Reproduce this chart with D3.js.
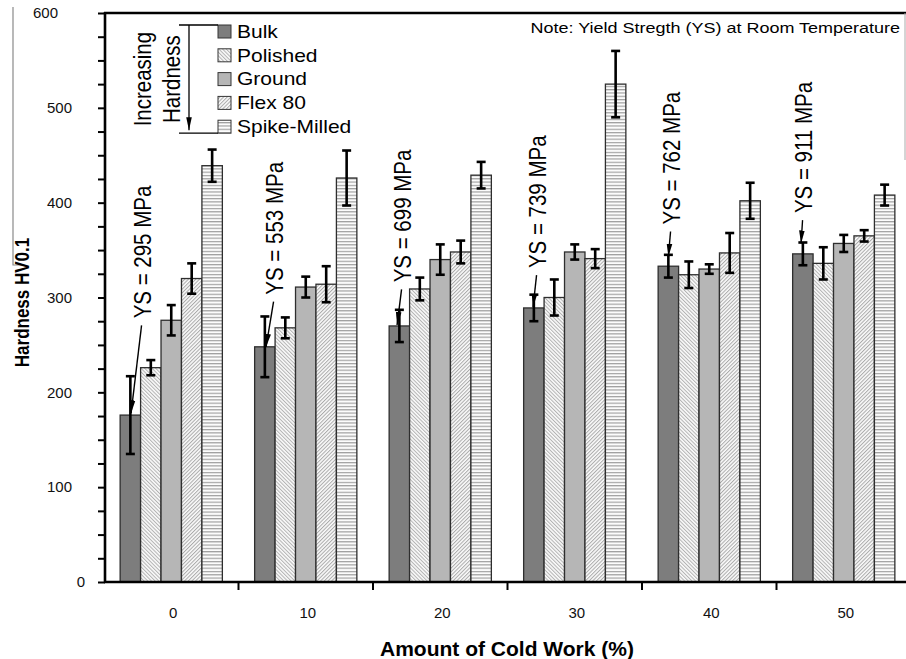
<!DOCTYPE html>
<html><head><meta charset="utf-8">
<script src="https://cdn.jsdelivr.net/npm/d3@7"></script>
<style>
body{margin:0;background:#fff;}
svg{display:block;font-family:"Liberation Sans",Arial,sans-serif;}
</style></head><body>
<svg id="chart" width="906" height="659"></svg>
<script>
// Cold work levels (%) and surface conditions
const categories = ["0", "10", "20", "30", "40", "50"];
const series = ["Bulk", "Polished", "Ground", "Flex 80", "Spike-Milled"];

// Mean hardness HV0.1 per condition
const bulk     = [176, 248, 270, 289, 333, 346];
const polished = [226, 268, 309, 300, 324, 336];
const ground   = [276, 311, 340, 348, 330, 357];
const flex80   = [320, 314, 348, 341, 347, 365];
const spike    = [439, 426, 429, 525, 402, 408];

// Scatter (± HV0.1)
const bulkErr     = [41, 32, 17, 14, 12, 12];
const polishedErr = [8, 11, 12, 19, 14, 17];
const groundErr   = [16, 11, 16, 8, 5, 9];
const flex80Err   = [16, 19, 12, 10, 21, 6];
const spikeErr    = [17, 29, 14, 35, 19, 11];

// Room-temperature yield strength (MPa) for each cold work level
const yieldStrength = [295, 553, 699, 739, 762, 911];
// Hardness level where each YS label starts and where its arrow points
const ysLabelFrom = [278, 303, 316, 331, 377, 389];
const ysArrowTo   = [178, 248, 271, 290, 343, 357];

const yTicks = [0, 100, 200, 300, 400, 500, 600];

// ---- layout ----
const L = { left: 105, right: 911, top: 13, bottom: 582 };
const ysTextDx  = [12.7, 10.2, 3.7, 4.2, 3.7, 1.2];
const ysTipDx   = [0.7, 1.2, -2.3, -0.8, 0, -1.8];

const valuesBySeries = [bulk, polished, ground, flex80, spike];
const errBySeries = [bulkErr, polishedErr, groundErr, flex80Err, spikeErr];

const rows = [];
categories.forEach((c, i) => series.forEach((s, j) => rows.push({
  cat: c, ser: s, si: j, v: valuesBySeries[j][i], e: errBySeries[j][i]
})));

const svg = d3.select("#chart");
const defs = svg.append("defs");

function hatch(id, angle, color, gap, w) {
  const p = defs.append("pattern").attr("id", id)
    .attr("patternUnits", "userSpaceOnUse").attr("width", gap).attr("height", gap)
    .attr("patternTransform", `rotate(${angle})`);
  p.append("rect").attr("width", gap).attr("height", gap).attr("fill", "#fafafa");
  p.append("rect").attr("x", 0).attr("y", 0).attr("width", w).attr("height", gap).attr("fill", color);
}
hatch("pPolished", -45, "#b2b2b2", 2.6, 1.0);
hatch("pFlex", 45, "#aaaaaa", 2.6, 1.0);
{
  const p = defs.append("pattern").attr("id", "pSpike")
    .attr("patternUnits", "userSpaceOnUse").attr("width", 6).attr("height", 3.3);
  p.append("rect").attr("width", 6).attr("height", 3.3).attr("fill", "#fcfcfc");
  p.append("rect").attr("y", 0).attr("width", 6).attr("height", 1.2).attr("fill", "#a0a0a0");
}
const fills = ["#7d7d7d", "url(#pPolished)", "#b6b6b6", "url(#pFlex)", "url(#pSpike)"];

defs.append("marker").attr("id", "arrow").attr("markerUnits", "userSpaceOnUse")
  .attr("viewBox", "0 -4 13 8").attr("refX", 13).attr("refY", 0)
  .attr("markerWidth", 13).attr("markerHeight", 8).attr("orient", "auto")
  .append("path").attr("d", "M0,-2.8L13,0L0,2.8Z").attr("fill", "#000");

const x0 = d3.scaleBand().domain(categories).range([L.left - 1, L.right]).padding(0);
const bw = x0.bandwidth();
const x1 = d3.scaleBand().domain(series).range([bw * 0.12, bw * 0.88]).padding(0);
const y = d3.scaleLinear().domain([0, 600]).range([L.bottom, L.top]);

// bars
svg.append("g").selectAll("rect").data(rows).join("rect")
  .attr("x", d => x0(d.cat) + x1(d.ser))
  .attr("y", d => y(d.v))
  .attr("width", x1.bandwidth())
  .attr("height", d => y(0) - y(d.v))
  .attr("fill", d => fills[d.si])
  .attr("stroke", "#2e2e2e").attr("stroke-width", 1.3);

// error bars
const eg = svg.append("g").attr("stroke", "#000").attr("stroke-width", 2.6);
rows.forEach(d => {
  const cx = x0(d.cat) + x1(d.ser) + x1.bandwidth() / 2;
  eg.append("line").attr("x1", cx).attr("x2", cx).attr("y1", y(d.v - d.e)).attr("y2", y(d.v + d.e));
  [d.v - d.e, d.v + d.e].forEach(t => eg.append("line")
    .attr("x1", cx - 4.5).attr("x2", cx + 4.5).attr("y1", y(t)).attr("y2", y(t)));
});

// yield strength labels with leader arrows
categories.forEach((c, i) => {
  const bc = x0(c) + x1("Bulk") + x1.bandwidth() / 2;
  const tx = bc + ysTextDx[i];
  const ty = y(ysLabelFrom[i]);
  svg.append("text")
    .attr("transform", `translate(${tx},${ty}) scale(1.14,1) rotate(-90)`)
    .attr("dominant-baseline", "central")
    .attr("font-size", 20.5).attr("fill", "#000")
    .text(`YS = ${yieldStrength[i]} MPa`);
  svg.append("line")
    .attr("x1", tx - 1.5).attr("y1", ty + 7)
    .attr("x2", bc + ysTipDx[i]).attr("y2", y(ysArrowTo[i]))
    .attr("stroke", "#000").attr("stroke-width", 1.4)
    .attr("marker-end", "url(#arrow)");
});

// y axis
const yAxis = d3.axisLeft(y).tickValues(d3.range(0, 601, 25)).tickSize(7).tickPadding(26)
  .tickFormat(d => yTicks.includes(d) ? d : "");
const ya = svg.append("g").attr("transform", `translate(${L.left},0)`).call(yAxis);
ya.select(".domain").remove();
ya.selectAll(".tick line").attr("stroke", "#000").attr("stroke-width", 2);
ya.selectAll(".tick text").attr("font-size", 15).attr("fill", "#111")
  .attr("font-family", "'Liberation Sans',Arial,sans-serif")
  .attr("dx", d => d === 600 ? -14 : d === 0 ? 13 : 0);

// x axis: ticks at group boundaries, labels at group centers
const xg = svg.append("g");
const bounds = categories.map(c => x0(c)).concat([x0.range()[1]]);
bounds.slice(1).forEach(b => xg.append("line").attr("x1", b).attr("x2", b)
  .attr("y1", L.bottom).attr("y2", L.bottom + 8).attr("stroke", "#000").attr("stroke-width", 2));
xg.selectAll("text").data(categories).join("text")
  .attr("x", d => x0(d) + bw / 2 + 2).attr("y", 618)
  .attr("text-anchor", "middle").attr("font-size", 15).attr("fill", "#111").text(d => d);

// frame lines
svg.append("line").attr("x1", L.left).attr("x2", L.left).attr("y1", L.top - 1).attr("y2", L.bottom + 1)
  .attr("stroke", "#000").attr("stroke-width", 2.6);
svg.append("line").attr("x1", L.left - 1).attr("x2", 906).attr("y1", L.bottom).attr("y2", L.bottom)
  .attr("stroke", "#000").attr("stroke-width", 2.6);
svg.append("line").attr("x1", L.left - 1).attr("x2", 906).attr("y1", L.top).attr("y2", L.top)
  .attr("stroke", "#000").attr("stroke-width", 2.6);
svg.append("line").attr("x1", 905).attr("x2", 905).attr("y1", L.top).attr("y2", 160)
  .attr("stroke", "#aaa").attr("stroke-width", 1);
svg.append("path").attr("d", "M13,7V265H24").attr("fill", "none")
  .attr("stroke", "#8a8a8a").attr("stroke-width", 1.2);

// axis titles
svg.append("text")
  .attr("transform", `translate(22,${(y(0) + y(600)) / 2 + 5}) scale(1.22,1) rotate(-90)`)
  .attr("text-anchor", "middle").attr("dominant-baseline", "central")
  .attr("font-size", 17).attr("font-weight", "bold").text("Hardness HV0.1");
svg.append("text").attr("x", 507).attr("y", 656).attr("text-anchor", "middle")
  .attr("font-size", 21).attr("font-weight", "bold").text("Amount of Cold Work (%)");

// note
svg.append("text").attr("transform", "translate(900,33) scale(1.2,1)")
  .attr("text-anchor", "end").attr("font-size", 15)
  .text("Note: Yield Stregth (YS) at Room Temperature");

// legend
const lg = svg.append("g");
const ly0 = 25, lstep = 23.8, lsz = 13, lx = 218;
series.forEach((s, j) => {
  lg.append("rect").attr("x", lx).attr("y", ly0 + j * lstep).attr("width", lsz).attr("height", lsz)
    .attr("fill", fills[j]).attr("stroke", "#353535").attr("stroke-width", 1);
  lg.append("text").attr("transform", `translate(${lx + 19},${ly0 + j * lstep + lsz / 2 + 6.3}) scale(1.2,1)`)
    .attr("font-size", 17.5).text(s);
});
// "Increasing Hardness" bracket
const lyEnd = ly0 + 4 * lstep + lsz;
lg.append("path").attr("d", `M179,${ly0}H${lx}M179,${lyEnd}H${lx}`)
  .attr("stroke", "#000").attr("stroke-width", 1.3);
lg.append("line").attr("x1", 189).attr("x2", 189).attr("y1", ly0).attr("y2", lyEnd - 3)
  .attr("stroke", "#000").attr("stroke-width", 1.3).attr("marker-end", "url(#arrow)");
[["Increasing", 143], ["Hardness", 172]].forEach(([t, xx]) => lg.append("text")
  .attr("transform", `translate(${xx},${(ly0 + lyEnd) / 2}) scale(1.15,1) rotate(-90)`)
  .attr("text-anchor", "middle").attr("dominant-baseline", "central")
  .attr("font-size", 20.5).text(t));
</script>
</body></html>
